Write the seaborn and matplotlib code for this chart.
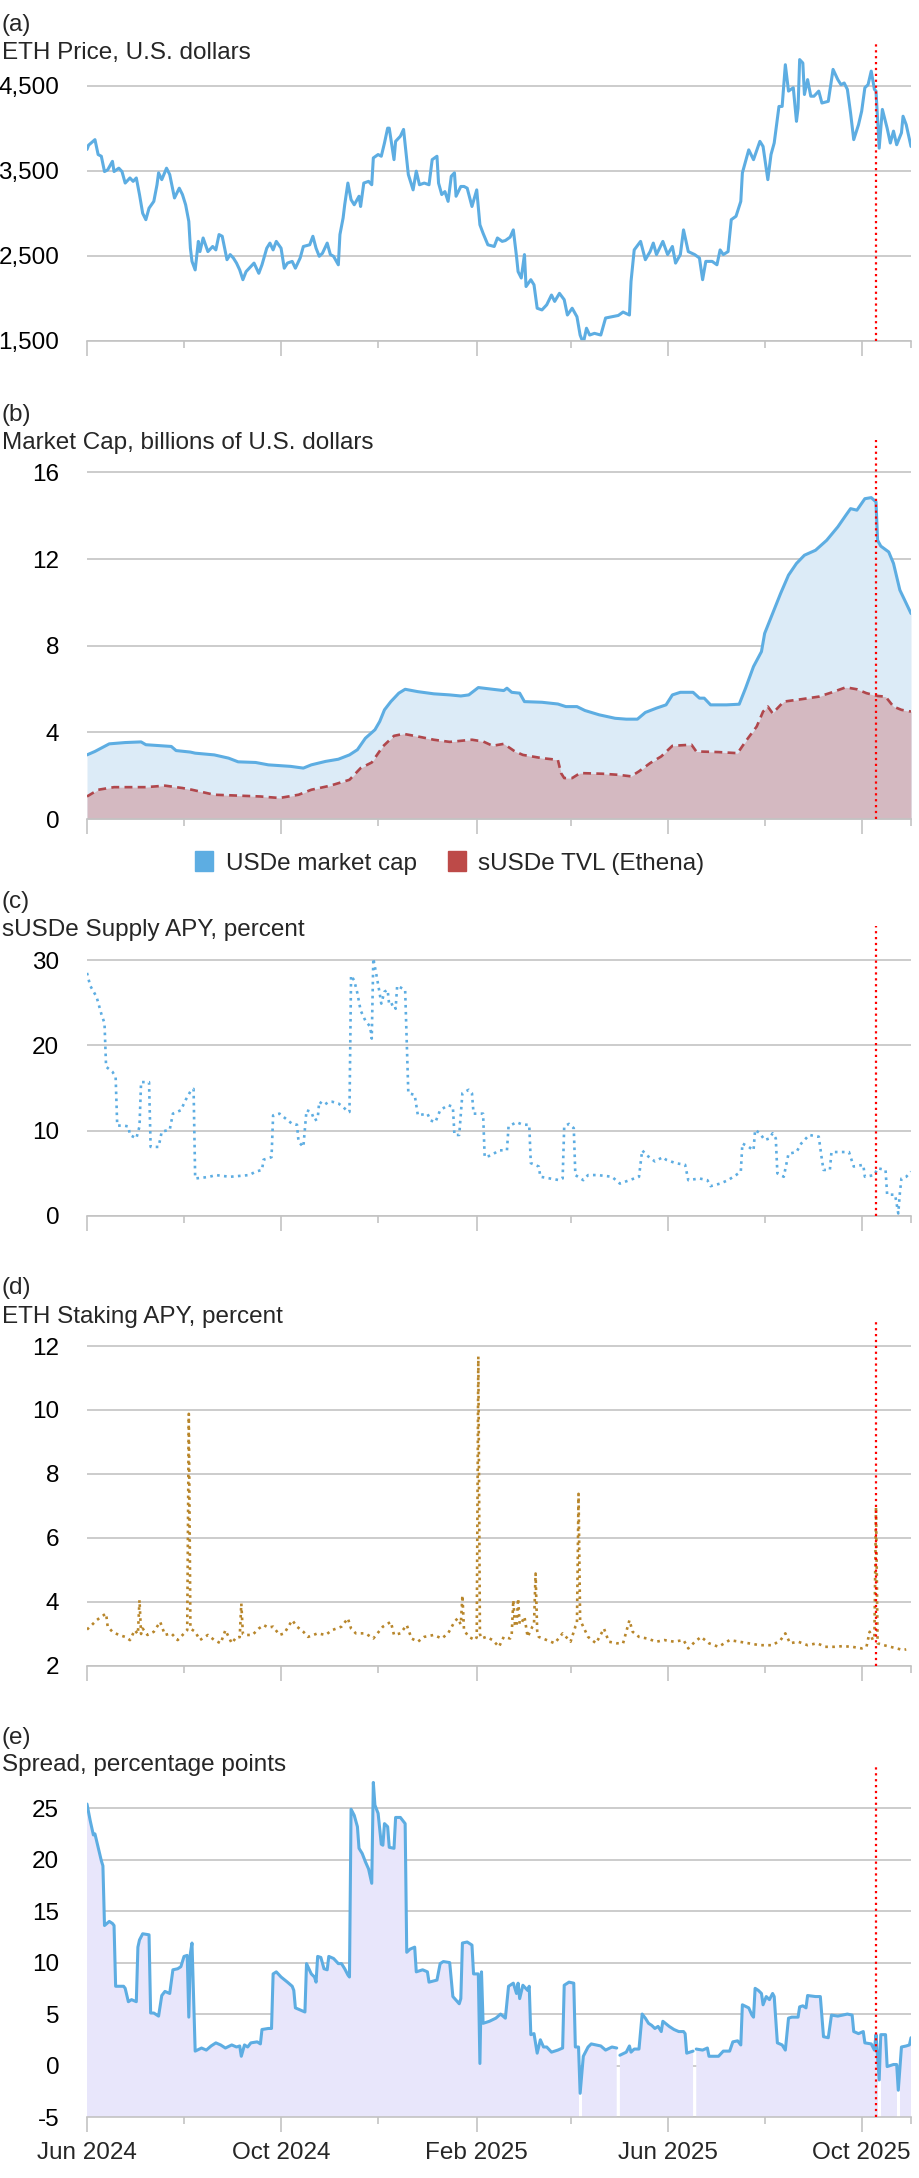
import numpy as np
import pandas as pd
import seaborn as sns
import matplotlib.pyplot as plt
import matplotlib.dates as mdates
from matplotlib.patches import Patch
from matplotlib.ticker import FuncFormatter, FixedLocator

sns.set_theme(style="white")
plt.rcParams["font.family"] = ["Liberation Sans", "DejaVu Sans"]
plt.rcParams["axes.unicode_minus"] = False

# x values are days since 1 Jun 2024
START = pd.Timestamp("2024-06-01")
END = pd.Timestamp("2025-11-01")
EVENT = pd.Timestamp("2025-10-10")

# (a) ETH price
eth_day = [0, 1, 5, 7, 9, 11, 13, 16, 17, 20, 22, 24, 27, 29, 31, 33, 35, 37, 39, 42, 44, 45, 47, 50, 52,
           55, 58, 60, 62, 64, 65, 66, 68, 70, 71, 73, 76, 79, 81, 83, 85, 88, 90, 92, 94, 96, 98, 100,
           102, 105, 108, 110, 113, 115, 117, 119, 122, 124, 126, 129, 131, 134, 136, 140, 142, 144, 146,
           148, 151, 153, 155, 158, 159, 161, 162, 164, 166, 168, 171, 172, 174, 177, 179, 180, 183, 185,
           187, 189, 190, 193, 194, 197, 199, 200, 202, 205, 207, 209, 212, 215, 217, 220, 221, 223, 225,
           227, 229, 231, 232, 235, 237, 239, 242, 245, 247, 249, 252, 256, 258, 261, 263, 266, 268, 270,
           271, 273, 275, 276, 279, 281, 283, 286, 289, 292, 294, 297, 300, 302, 305, 308, 310, 312, 314,
           316, 319, 323, 326, 330, 334, 337, 341, 342, 344, 348, 351, 354, 356, 358, 362, 365, 368, 370,
           373, 375, 378, 382, 385, 387, 389, 393, 396, 398, 400, 403, 405, 408, 411, 412, 416, 419, 423,
           425, 428, 430, 432, 435, 437, 439, 441, 444, 446, 447, 448, 450, 451, 453, 455, 457, 460, 462,
           466, 469, 472, 474, 476, 478, 480, 482, 485, 487, 489, 491, 493, 495, 496, 498, 500, 503, 505,
           507, 509, 512, 513, 515, 518]
eth_price = [3750, 3800, 3865, 3690, 3670, 3490, 3510, 3610, 3490, 3530, 3490, 3355, 3415, 3375, 3415, 3220,
             3000, 2925, 3060, 3140, 3335, 3475, 3395, 3530, 3455, 3180, 3295, 3220, 3100, 2905, 2590, 2435,
             2335, 2670, 2550, 2710, 2550, 2610, 2570, 2750, 2730, 2455, 2515, 2475, 2415, 2335, 2220, 2315,
             2355, 2415, 2295, 2395, 2590, 2650, 2570, 2670, 2590, 2355, 2415, 2435, 2355, 2475, 2610, 2630,
             2730, 2590, 2495, 2530, 2650, 2515, 2495, 2395, 2750, 2945, 3100, 3355, 3160, 3100, 3200, 3080,
             3355, 3375, 3335, 3650, 3690, 3670, 3825, 4000, 4000, 3630, 3845, 3905, 3985, 3805, 3455, 3275,
             3495, 3335, 3355, 3335, 3630, 3670, 3355, 3220, 3255, 3140, 3435, 3475, 3200, 3315, 3315, 3295,
             3080, 3275, 2865, 2765, 2630, 2610, 2710, 2670, 2680, 2720, 2805, 2495, 2315, 2240, 2515, 2140,
             2220, 2160, 1885, 1865, 1925, 2040, 1965, 2060, 1985, 1805, 1885, 1785, 1570, 1475, 1650, 1570,
             1590, 1570, 1770, 1785, 1800, 1840, 1805, 2200, 2570, 2670, 2455, 2550, 2650, 2515, 2670, 2515,
             2610, 2415, 2515, 2805, 2550, 2515, 2475, 2220, 2435, 2435, 2395, 2570, 2515, 2550, 2925, 2965,
             3140, 3475, 3745, 3630, 3845, 3785, 3395, 3690, 3825, 4255, 4255, 4745, 4435, 4475, 4080, 4235,
             4805, 4765, 4395, 4570, 4375, 4375, 4435, 4295, 4315, 4690, 4570, 4510, 4530, 4455, 4180, 3865,
             4040, 4200, 4475, 4510, 4670, 4455, 4435, 3765, 4220, 4000, 3825, 3965, 3805, 3945, 4140, 4040,
             3785]

# (b) market cap, billions USD
usde_day = [0, 5, 14, 24, 34, 37, 53, 56, 65, 68, 80, 89, 95, 106, 114, 128, 136, 141, 150, 158, 165, 170,
            175, 181, 184, 187, 191, 196, 200, 208, 218, 228, 235, 240, 246, 255, 262, 264, 267, 272, 275,
            286, 296, 301, 308, 313, 322, 332, 339, 346, 351, 358, 364, 368, 373, 381, 385, 388, 392, 402,
            410, 414, 419, 424, 426, 431, 436, 441, 446, 451, 458, 465, 472, 477, 480, 484, 489, 493, 496,
            497, 499, 504, 507, 511, 514, 518]
usde_cap = [2.96, 3.12, 3.47, 3.53, 3.56, 3.43, 3.35, 3.16, 3.09, 3.04, 2.96, 2.81, 2.64, 2.61, 2.50, 2.43,
            2.35, 2.50, 2.66, 2.76, 2.96, 3.20, 3.73, 4.12, 4.50, 5.04, 5.42, 5.81, 5.99, 5.88, 5.78, 5.73,
            5.68, 5.73, 6.07, 5.99, 5.93, 6.04, 5.85, 5.81, 5.42, 5.39, 5.31, 5.19, 5.19, 5.01, 4.81, 4.65,
            4.61, 4.61, 4.92, 5.12, 5.27, 5.73, 5.85, 5.85, 5.58, 5.58, 5.27, 5.27, 5.30, 6.04, 7.04, 7.73,
            8.57, 9.49, 10.41, 11.26, 11.80, 12.18, 12.41, 12.87, 13.49, 14.02, 14.33, 14.26, 14.79, 14.84,
            14.64, 12.87, 12.60, 12.33, 11.80, 10.57, 10.11, 9.49]
susde_day = [0, 7, 17, 37, 49, 60, 66, 80, 95, 109, 121, 133, 141, 153, 165, 172, 179, 186, 193, 199, 208,
             218, 228, 242, 249, 255, 262, 269, 274, 286, 296, 298, 300, 305, 310, 324, 334, 342, 347, 354,
             361, 368, 380, 383, 397, 409, 414, 421, 425, 428, 431, 438, 449, 460, 468, 477, 484, 490, 497,
             502, 507, 512, 518]
susde_tvl = [1.04, 1.35, 1.47, 1.47, 1.54, 1.43, 1.35, 1.12, 1.08, 1.04, 0.97, 1.12, 1.35, 1.54, 1.81, 2.35,
             2.61, 3.35, 3.84, 3.93, 3.81, 3.66, 3.56, 3.66, 3.58, 3.38, 3.47, 3.12, 2.96, 2.81, 2.73, 2.12,
             1.89, 1.89, 2.12, 2.09, 2.04, 1.97, 2.20, 2.58, 2.89, 3.38, 3.43, 3.12, 3.09, 3.04, 3.58, 4.27,
             4.96, 5.19, 4.88, 5.42, 5.53, 5.65, 5.84, 6.08, 5.99, 5.81, 5.68, 5.65, 5.19, 5.04, 4.96]

# (c) sUSDe supply APY, percent
supply_day = [0, 2, 6, 9, 11, 12, 16, 18, 19, 23, 26, 27, 31, 33, 34, 39, 40, 45, 47, 52, 54, 59, 62, 65,
              67, 68, 73, 77, 81, 85, 90, 96, 102, 106, 110, 111, 116, 117, 121, 125, 129, 132, 133, 136,
              138, 141, 143, 145, 146, 149, 152, 154, 158, 161, 164, 165, 166, 168, 170, 172, 175, 178, 179,
              180, 182, 184, 185, 187, 189, 190, 193, 194, 195, 197, 200, 202, 206, 208, 214, 216, 219, 222,
              227, 230, 231, 234, 236, 240, 242, 243, 249, 250, 254, 259, 264, 265, 270, 274, 278, 279, 284,
              285, 291, 297, 299, 300, 303, 306, 307, 312, 315, 321, 330, 335, 341, 347, 349, 352, 357, 362,
              364, 370, 376, 378, 385, 390, 392, 398, 403, 408, 411, 412, 416, 419, 420, 423, 426, 429, 431,
              433, 434, 438, 441, 446, 449, 454, 460, 462, 463, 467, 468, 474, 479, 482, 488, 489, 495, 497,
              502, 503, 508, 510, 511, 512, 515, 518]
supply_apy = [28.5, 27.0, 25.7, 23.7, 22.6, 17.5, 16.9, 16.3, 10.6, 10.6, 10.5, 9.5, 9.1, 10.5, 15.7, 15.7,
              8.1, 8.1, 9.9, 10.1, 12.0, 12.4, 13.6, 14.6, 14.9, 4.4, 4.5, 4.6, 4.8, 4.7, 4.6, 4.7, 4.8, 5.2,
              5.4, 6.6, 6.9, 11.8, 12.0, 11.4, 10.8, 10.7, 8.7, 8.1, 12.4, 12.2, 11.2, 11.4, 13.4, 13.0, 13.4,
              13.4, 13.2, 12.8, 12.2, 12.2, 28.2, 27.6, 26.1, 24.1, 22.9, 22.2, 20.8, 30.2, 28.2, 26.1, 24.9,
              26.3, 26.5, 24.7, 24.9, 24.3, 27.0, 26.8, 26.5, 14.4, 14.2, 11.8, 12.0, 11.2, 11.0, 12.4, 13.0,
              12.8, 9.5, 9.5, 14.4, 14.8, 14.4, 12.0, 12.0, 6.9, 7.1, 7.7, 7.7, 10.5, 11.0, 10.7, 10.7, 6.2,
              5.8, 4.6, 4.4, 4.2, 4.4, 10.5, 10.8, 10.3, 4.8, 4.2, 4.8, 4.8, 4.6, 3.8, 4.2, 4.6, 7.7, 7.1,
              6.4, 6.9, 6.6, 6.2, 6.0, 4.2, 4.4, 4.2, 3.5, 3.8, 4.2, 4.8, 5.2, 8.5, 8.1, 7.7, 10.1, 9.7, 8.9,
              9.1, 9.7, 9.1, 5.0, 4.6, 7.3, 7.5, 8.5, 9.5, 9.3, 6.6, 5.4, 5.4, 7.5, 7.5, 7.5, 5.8, 6.0, 4.6,
              4.8, 5.6, 5.4, 2.5, 2.5, 0.3, 2.7, 4.4, 4.6, 5.2]

# (d) ETH staking APY, percent
staking_day = [0, 3, 6, 9, 12, 13, 16, 20, 24, 27, 30, 32, 33, 34, 35, 38, 42, 46, 49, 53, 57, 61, 63, 64,
               65, 68, 71, 76, 80, 84, 87, 91, 94, 96, 97, 98, 99, 104, 108, 111, 114, 117, 121, 124, 129,
               132, 136, 139, 145, 150, 154, 160, 164, 166, 169, 175, 180, 186, 191, 193, 197, 201, 204, 208,
               212, 218, 223, 227, 231, 233, 235, 236, 237, 240, 244, 245, 246, 247, 248, 251, 255, 259, 262,
               266, 267, 268, 269, 270, 271, 272, 273, 275, 277, 280, 281, 282, 283, 284, 289, 294, 299, 304,
               307, 308, 309, 310, 311, 315, 320, 325, 328, 333, 337, 341, 343, 347, 352, 358, 363, 369, 375,
               378, 382, 386, 391, 397, 404, 410, 416, 423, 431, 436, 439, 442, 447, 453, 459, 464, 470, 475,
               481, 487, 490, 492, 494, 495, 496, 497, 501, 505, 509, 513, 515]
staking_apy = [3.14, 3.28, 3.43, 3.54, 3.64, 3.23, 3.07, 2.97, 2.91, 2.81, 3.12, 3.00, 4.06, 3.00, 3.17, 2.97,
               3.07, 3.38, 2.97, 3.02, 2.81, 3.02, 3.12, 9.88, 3.17, 3.07, 2.81, 2.97, 2.81, 2.71, 3.12, 2.71,
               2.91, 2.90, 3.95, 3.00, 2.97, 2.97, 3.17, 3.28, 3.20, 3.23, 2.97, 3.02, 3.43, 3.23, 3.07, 2.91,
               3.02, 2.97, 3.12, 3.23, 3.49, 3.17, 3.02, 3.02, 2.86, 3.23, 3.38, 2.97, 3.02, 3.28, 2.86, 2.76,
               2.91, 2.97, 2.86, 3.02, 3.38, 3.49, 3.30, 4.21, 3.12, 2.91, 2.81, 2.90, 11.67, 3.00, 2.86, 2.91,
               2.81, 2.60, 2.91, 2.86, 3.00, 4.06, 3.30, 3.23, 4.11, 3.30, 3.33, 3.54, 2.91, 3.23, 3.30, 4.89,
               3.10, 2.91, 2.81, 2.71, 3.02, 2.76, 3.23, 3.30, 7.38, 3.40, 3.33, 2.91, 2.71, 3.17, 2.76, 2.71,
               2.71, 3.43, 3.07, 2.91, 2.86, 2.76, 2.81, 2.76, 2.81, 2.55, 2.75, 2.91, 2.71, 2.60, 2.81, 2.76,
               2.71, 2.65, 2.65, 2.81, 3.02, 2.71, 2.76, 2.65, 2.71, 2.60, 2.60, 2.62, 2.60, 2.55, 2.60, 3.07,
               2.81, 2.90, 6.97, 2.71, 2.65, 2.60, 2.55, 2.50, 2.52]

# (e) spread, percentage points (nan = missing day)
spread_day = [0, 2, 4, 5, 7, 9, 10, 11, 14, 16, 17, 18, 23, 24, 26, 28, 31, 32, 33, 35, 39, 40, 42, 45, 47,
              49, 52, 54, 57, 59, 61, 63, 64, 65, 66, 68, 72, 75, 78, 81, 84, 87, 91, 94, 96, 97, 99, 101,
              103, 107, 109, 110, 114, 116, 117, 119, 122, 126, 129, 130, 131, 134, 137, 138, 141, 143, 144,
              145, 147, 149, 151, 152, 155, 158, 160, 162, 164, 165, 166, 168, 170, 171, 173, 175, 177, 179,
              180, 181, 183, 185, 186, 187, 189, 190, 193, 194, 197, 200, 201, 203, 206, 207, 211, 214, 215,
              220, 222, 224, 228, 230, 234, 235, 236, 239, 242, 243, 246, 247, 248, 249, 253, 257, 260, 263,
              265, 268, 270, 271, 272, 274, 277, 278, 279, 281, 283, 285, 287, 289, 292, 296, 299, 300, 303,
              306, 307, 309, 310, 312, 315, 317, 320, 323, 326, 330, 333, 334, 335, 339, 341, 342, 344, 347,
              349, 351, 353, 355, 357, 359, 361, 362, 366, 369, 372, 375, 376, 377, 381, 382, 383, 387, 390,
              391, 394, 397, 400, 404, 406, 409, 411, 412, 416, 418, 419, 420, 422, 424, 425, 427, 429, 431,
              432, 434, 437, 439, 441, 443, 447, 448, 450, 452, 453, 458, 461, 463, 466, 468, 472, 475, 478,
              481, 482, 485, 488, 489, 493, 495, 496, 498, 499, 502, 503, 507, 509, 510, 512, 515, 517, 518]
spread_pp = [25.4, 23.8, 22.4, 22.5, 21.2, 19.9, 19.4, 13.6, 14.0, 13.8, 13.6, 7.7, 7.7, 7.5, 6.2, 6.4, 6.2,
             11.5, 12.2, 12.8, 12.7, 5.1, 5.1, 4.8, 6.8, 7.2, 7.0, 9.3, 9.4, 9.6, 10.6, 10.7, 4.7, 10.9, 11.9,
             1.4, 1.7, 1.5, 1.9, 2.2, 2.0, 1.7, 2.0, 1.8, 1.9, 0.9, 2.0, 1.8, 2.2, 2.3, 2.1, 3.5, 3.6, 3.6,
             8.9, 9.1, 8.6, 8.1, 7.7, 7.3, 5.6, 5.4, 5.2, 9.9, 8.9, 8.6, 8.1, 10.6, 10.5, 9.4, 9.3, 10.6,
             10.4, 9.9, 9.9, 9.4, 8.8, 8.6, 24.9, 24.3, 23.2, 21.1, 20.6, 19.8, 19.1, 17.7, 27.5, 25.3, 24.5,
             21.5, 21.4, 23.5, 23.2, 21.2, 21.1, 24.1, 24.1, 23.5, 11.0, 11.3, 11.5, 9.1, 9.3, 9.1, 8.1, 8.3,
             9.9, 10.1, 10.0, 6.7, 6.0, 6.5, 11.9, 12.0, 11.7, 8.9, 8.9, 0.2, 9.1, 4.1, 4.3, 4.6, 5.0, 4.6,
             7.7, 8.0, 7.0, 8.0, 6.5, 7.8, 7.3, 7.7, 3.0, 3.1, 1.2, 2.5, 1.8, 1.8, 1.3, 1.5, 1.7, 7.8, 8.1,
             8.0, 1.8, 1.8, -2.7, 0.9, 1.8, 2.1, 2.0, 1.9, 1.5, 1.8, 1.7, np.nan, 1.0, 1.3, 1.9, 1.3, 1.6,
             1.6, 5.0, 4.6, 4.1, 3.9, 3.6, 3.8, 3.3, 4.3, 3.8, 3.5, 3.3, 3.3, 3.1, 1.2, 1.4, np.nan, 1.6, 1.5,
             1.7, 0.9, 0.9, 0.9, 1.4, 1.4, 2.3, 2.4, 2.0, 5.9, 5.6, 4.9, 4.7, 7.5, 7.3, 7.0, 5.9, 6.7, 6.4,
             7.0, 6.7, 2.2, 2.0, 1.5, 4.6, 4.7, 4.7, 5.7, 5.8, 5.6, 6.8, 6.7, 6.7, 2.8, 2.7, 4.9, 4.8, 4.9,
             5.0, 4.9, 3.3, 3.1, 3.3, 2.2, 2.1, 1.5, 3.0, -1.4, 3.0, 3.0, -0.1, 0.1, 0.1, -2.4, 1.8, 1.9,
             2.0, 2.7]
spread_fill_gaps = [310, 498, 510]

FS = 17.5
GRID = "#c3c3c3"
BLUE = "#5dade2"
LIGHT_BLUE = "#dcebf7"
DARK_RED = "#b0474c"
RED_PATCH = "#bd4a48"
MAUVE = "#d4b9c1"
GOLD = "#b8862b"
LAVENDER = "#e8e6fb"


def to_dates(days):
    return START + pd.to_timedelta(np.asarray(days), unit="D")


def frame(day, values):
    return pd.DataFrame({"date": to_dates(day), "v": values})


def style_axis(ax, yticks, ylim, labels=False, fmt=None):
    ax.set_xlim(START, END)
    ax.set_ylim(*ylim)
    ax.set_yticks(yticks)
    if fmt:
        ax.yaxis.set_major_formatter(FuncFormatter(fmt))
    ax.yaxis.grid(True, color=GRID, lw=1.2)
    ax.xaxis.grid(False)
    for s in ["left", "right", "top"]:
        ax.spines[s].set_visible(False)
    ax.spines["bottom"].set_color(GRID)
    ax.spines["bottom"].set_linewidth(1.2)
    ax.tick_params(axis="y", length=0, pad=20, labelsize=FS, labelcolor="black")
    ax.xaxis.set_major_locator(mdates.MonthLocator(bymonth=[2, 6, 10]))
    minor = pd.to_datetime(["2024-08-01", "2024-12-01", "2025-04-01", "2025-08-01", "2025-11-01"])
    ax.xaxis.set_minor_locator(FixedLocator(mdates.date2num(minor)))
    ax.xaxis.set_major_formatter(mdates.DateFormatter("%b %Y"))
    ax.tick_params(axis="x", which="major", length=11, width=1.2, color=GRID, direction="out",
                   bottom=True, labelbottom=labels, labelsize=FS, pad=7)
    ax.tick_params(axis="x", which="minor", length=5, width=1.2, color=GRID, direction="out", bottom=True)
    ax.axvline(EVENT, color="red", ls=":", lw=1.6, zorder=5)
    ax.set_xlabel("")
    ax.set_ylabel("")


fig = plt.figure(figsize=(9.2, 21.78), dpi=100)
W = 920
H = 2178


def add_axes(top, bottom):
    return fig.add_axes([87 / W, 1 - bottom / H, (911 - 87) / W, (bottom - top) / H])


# (a)
ax_a = add_axes(43, 341)
sns.lineplot(data=frame(eth_day, eth_price), x="date", y="v", ax=ax_a, color=BLUE, lw=2.2)
style_axis(ax_a, [1500, 2500, 3500, 4500], (1500, 5000), fmt=lambda v, p: f"{v:,.0f}")

# (b)
ax_b = add_axes(440, 819)
ax_b.fill_between(to_dates(usde_day), usde_cap, 0, color=LIGHT_BLUE, lw=0)
ax_b.fill_between(to_dates(susde_day), susde_tvl, 0, color=MAUVE, lw=0)
sns.lineplot(data=frame(usde_day, usde_cap), x="date", y="v", ax=ax_b, color=BLUE, lw=2.2)
sns.lineplot(data=frame(susde_day, susde_tvl), x="date", y="v", ax=ax_b, color=DARK_RED, lw=1.9,
             linestyle=(0, (3, 2)))
style_axis(ax_b, [0, 4, 8, 12, 16], (0, 17.5))
fig.legend(handles=[Patch(color=BLUE), Patch(color=RED_PATCH)],
           labels=["USDe market cap", "sUSDe TVL (Ethena)"],
           loc="center", bbox_to_anchor=(0.489, 1 - 863 / H), ncol=2, frameon=False, fontsize=FS,
           handlelength=0.75, handleheight=0.9, handletextpad=0.5, columnspacing=1.3)

# (c)
ax_c = add_axes(926, 1216)
sns.lineplot(data=frame(supply_day, supply_apy), x="date", y="v", ax=ax_c, color=BLUE, lw=1.9,
             linestyle=":")
style_axis(ax_c, [0, 10, 20, 30], (0, 34))

# (d)
ax_d = add_axes(1322, 1666)
sns.lineplot(data=frame(staking_day, staking_apy), x="date", y="v", ax=ax_d, color=GOLD, lw=1.9,
             linestyle=":")
style_axis(ax_d, [2, 4, 6, 8, 10, 12], (2, 12.75))

# (e)
ax_e = add_axes(1767, 2117)
df_e = frame(spread_day, spread_pp)
df_e["seg"] = df_e["v"].isna().cumsum()
ax_e.fill_between(df_e["date"], df_e["v"], -5, color=LAVENDER, lw=0)
gap_vals = df_e.set_index(pd.Index(spread_day))["v"].loc[spread_fill_gaps]
ax_e.vlines(to_dates(spread_fill_gaps), -5, gap_vals.values, color="white", lw=2.2)
sns.lineplot(data=df_e.dropna(), x="date", y="v", units="seg", estimator=None, ax=ax_e, color=BLUE, lw=2.2)
style_axis(ax_e, [-5, 0, 5, 10, 15, 20, 25], (-5, 29), labels=True)

panels = [("(a)", "ETH Price, U.S. dollars", 25, 53),
          ("(b)", "Market Cap, billions of U.S. dollars", 415, 443),
          ("(c)", "sUSDe Supply APY, percent", 902, 930),
          ("(d)", "ETH Staking APY, percent", 1288, 1317),
          ("(e)", "Spread, percentage points", 1738, 1765)]
for tag, title, y1, y2 in panels:
    fig.text(0.002, 1 - y1 / H, tag, fontsize=FS, va="center", ha="left")
    fig.text(0.002, 1 - y2 / H, title, fontsize=FS, va="center", ha="left")

fig.savefig("out.png", dpi=100)
